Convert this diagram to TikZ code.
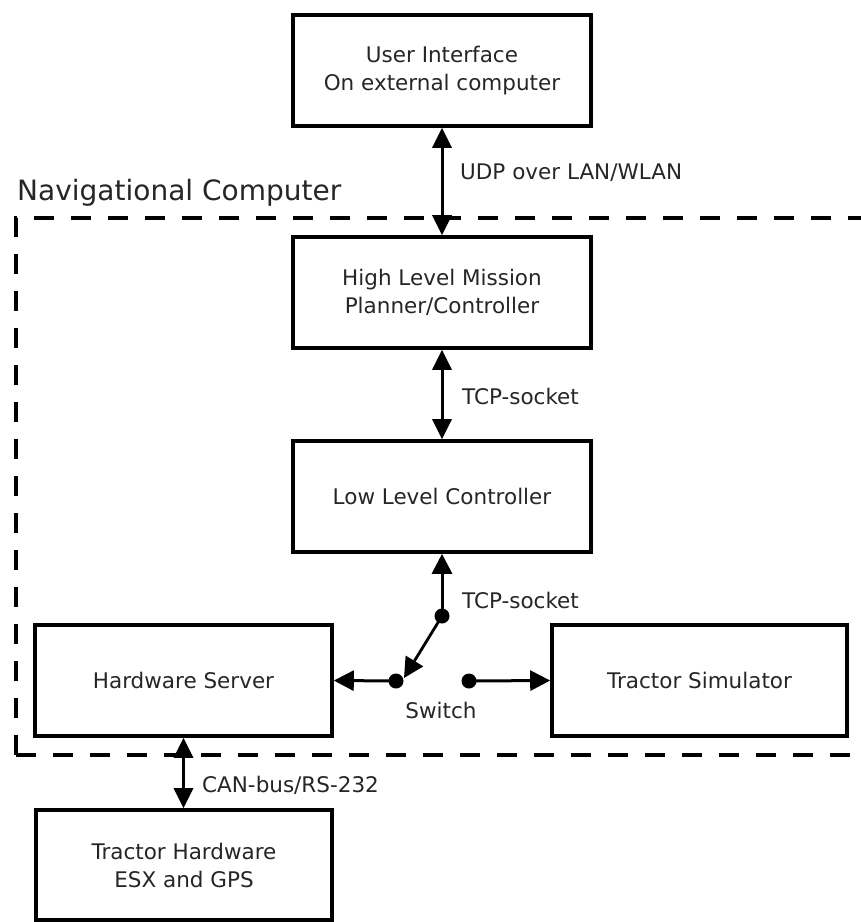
\documentclass[tikz,border=0pt]{standalone}
\usepackage{fontspec}
\setmainfont{DejaVu Sans}
\usetikzlibrary{arrows.meta}
\begin{document}
\begin{tikzpicture}[x=1pt,y=-1pt,
  box/.style={draw=black,line width=3.6pt,minimum width=298pt,minimum height=111pt,
    align=center,inner sep=0pt,font=\fontsize{21.5}{28}\selectfont,text=black!85},
  conn/.style={line width=3pt,-{Triangle[length=20pt,width=20pt]}},
  biconn/.style={line width=3pt,{Triangle[length=20pt,width=19pt]}-{Triangle[length=20pt,width=19pt]}},
  lbl/.style={inner sep=0pt,font=\fontsize{21.5}{28}\selectfont,text=black!85},
  dot/.style={circle,fill=black,inner sep=0pt,minimum size=15pt},
  frame/.style={line width=3.2pt,dash pattern=on 20pt off 17pt,dash phase=0pt}]
\useasboundingbox[fill=white] (0,0) rectangle (861,922);
\clip (0,0) rectangle (861,922);
% frame
\draw[frame] (16,755) -- (16,218) -- (900,218);
\draw[frame] (16,755) -- (900,755);
% boxes
\node[box] (ui) at (442,70.5) {User Interface\\On external computer};
\node[box] (hlm) at (442,292.5) {High Level Mission\\Planner/Controller};
\node[box] (llc) at (442,496.5) {Low Level Controller};
\node[box,minimum width=297pt] (hs) at (183.5,680.5) {Hardware Server};
\node[box,minimum width=295pt] (ts) at (699.5,680.5) {Tractor Simulator};
\node[box,minimum width=296pt,minimum height=110pt] (th) at (184,865) {Tractor Hardware\\ESX and GPS};
% label
\node[inner sep=0pt,anchor=base west,font=\fontsize{28}{32}\selectfont,text=black!85] (nav) at (17,200) {Navigational Computer};
% connectors
\draw[biconn] (ui.south) -- (hlm.north);
\draw[biconn] (hlm.south) -- (llc.north);
\draw[biconn] (hs.south) -- (hs.south |- th.north);
\node[dot] (d0) at (442,616) {};
\node[dot] (dl) at (396,681) {};
\node[dot] (dr) at (469,681) {};
\coordinate (lt) at (404,678);
\draw[conn] (d0.center) -- (llc.south);
\draw[conn,line width=2.8pt] (d0.center) -- (lt);
\draw[conn] (dl.center) -- (hs.east);
\draw[conn] (dr.center) -- (ts.west);
% labels
\node[lbl,anchor=west] (l1) at (460,173) {UDP over LAN/WLAN};
\node[lbl,anchor=west] (l2) at (462,396) {TCP-socket};
\node[lbl,anchor=west] (l3) at (462,600) {TCP-socket};
\node[lbl] (l4) at (441,710) {Switch};
\node[lbl,anchor=west] (l5) at (202,785) {CAN-bus/RS-232};
\end{tikzpicture}
\end{document}
